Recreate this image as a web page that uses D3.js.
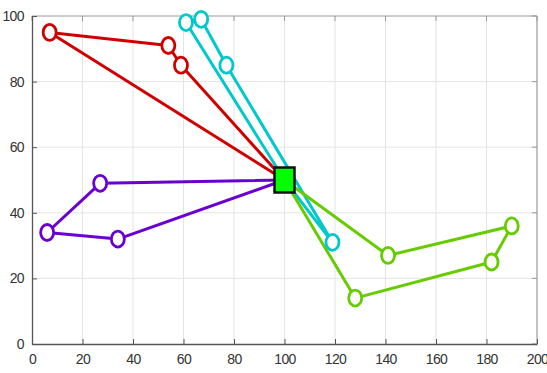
<!DOCTYPE html>
<html>
<head>
<meta charset="utf-8">
<script src="https://cdn.jsdelivr.net/npm/d3@7"></script>
<style>
  body { margin: 0; background: #fff; }
  svg text { font-family: "Liberation Sans", Arial, sans-serif; fill: #333; }
</style>
</head>
<body>
<div id="chart"></div>
<script>
// hub point everything connects to
const hub = [100, 50];

// each loop starts and ends at the hub
const redPts = [[7, 95], [54, 91], [59, 85]];
const cyanPts = [[61, 98], [67, 99], [77, 85], [119, 31]];
const purplePts = [[27, 49], [6, 34], [34, 32]];
const greenPts = [[128, 14], [182, 25], [190, 36], [141, 27]];

const xTicks = [0, 20, 40, 60, 80, 100, 120, 140, 160, 180, 200];
const yTicks = [0, 20, 40, 60, 80, 100];

const groups = [
  { pts: redPts, color: "#d00000" },
  { pts: cyanPts, color: "#00c8cc" },
  { pts: purplePts, color: "#6a00d0" },
  { pts: greenPts, color: "#66cc00" }
];

const width = 547, height = 373;
const plotL = 32, plotR = 537, plotT = 16, plotB = 344;

const svg = d3.select("#chart").append("svg")
  .attr("width", width)
  .attr("height", height);

const x = d3.scaleLinear().domain([0, 200]).range([plotL, plotR]);
const y = d3.scaleLinear().domain([0, 100]).range([plotB, plotT]);

// grid
svg.append("g").selectAll("line").data(xTicks.slice(1, -1)).join("line")
  .attr("x1", d => x(d)).attr("x2", d => x(d))
  .attr("y1", plotT).attr("y2", plotB)
  .attr("stroke", "#e4e4e4").attr("stroke-width", 1);
svg.append("g").selectAll("line").data(yTicks.slice(1, -1)).join("line")
  .attr("y1", d => y(d)).attr("y2", d => y(d))
  .attr("x1", plotL).attr("x2", plotR)
  .attr("stroke", "#e4e4e4").attr("stroke-width", 1);

// box: top + right are lighter
svg.append("line").attr("x1", plotL).attr("x2", plotR).attr("y1", plotT).attr("y2", plotT)
  .attr("stroke", "#999").attr("stroke-width", 1.2);
svg.append("line").attr("x1", plotR).attr("x2", plotR).attr("y1", plotT).attr("y2", plotB)
  .attr("stroke", "#999").attr("stroke-width", 1.2);

// inward ticks on top and right
svg.append("g").selectAll("line").data(xTicks).join("line")
  .attr("x1", d => x(d)).attr("x2", d => x(d))
  .attr("y1", plotT).attr("y2", plotT + 5)
  .attr("stroke", "#999");
svg.append("g").selectAll("line").data(yTicks).join("line")
  .attr("y1", d => y(d)).attr("y2", d => y(d))
  .attr("x1", plotR).attr("x2", plotR - 5)
  .attr("stroke", "#999");

// bottom and left axes
const xAxis = d3.axisBottom(x).tickValues(xTicks).tickSizeInner(-5).tickSizeOuter(0).tickPadding(10);
const yAxis = d3.axisLeft(y).tickValues(yTicks).tickSizeInner(-5).tickSizeOuter(0).tickPadding(8);

const gx = svg.append("g").attr("transform", `translate(0,${plotB})`).call(xAxis);
const gy = svg.append("g").attr("transform", `translate(${plotL},0)`).call(yAxis);
[gx, gy].forEach(g => {
  g.select(".domain").attr("stroke", "#555").attr("stroke-width", 1.3);
  g.selectAll(".tick line").attr("stroke", "#555");
  g.selectAll(".tick text").attr("font-size", 14).attr("fill", "#333")
    .attr("letter-spacing", "-0.6px")
    .attr("font-family", "'Liberation Sans', Arial, sans-serif");
});

// loops
const line = d3.line().x(d => x(d[0])).y(d => y(d[1]));

groups.forEach(g => {
  const path = [hub].concat(g.pts, [hub]);
  svg.append("path")
    .datum(path)
    .attr("d", line)
    .attr("fill", "none")
    .attr("stroke", g.color)
    .attr("stroke-width", 3)
    .attr("stroke-linejoin", "round");
});

groups.forEach(g => {
  svg.append("g").selectAll("ellipse").data(g.pts).join("ellipse")
    .attr("cx", d => x(d[0]))
    .attr("cy", d => y(d[1]))
    .attr("rx", 6.5)
    .attr("ry", 8)
    .attr("fill", "#fff")
    .attr("stroke", g.color)
    .attr("stroke-width", 2.8);
});

// hub marker
svg.append("rect")
  .attr("x", x(hub[0]) - 10)
  .attr("y", y(hub[1]) - 12.5)
  .attr("width", 20)
  .attr("height", 25)
  .attr("fill", "#00ff00")
  .attr("stroke", "#111")
  .attr("stroke-width", 2.5);
</script>
</body>
</html>
